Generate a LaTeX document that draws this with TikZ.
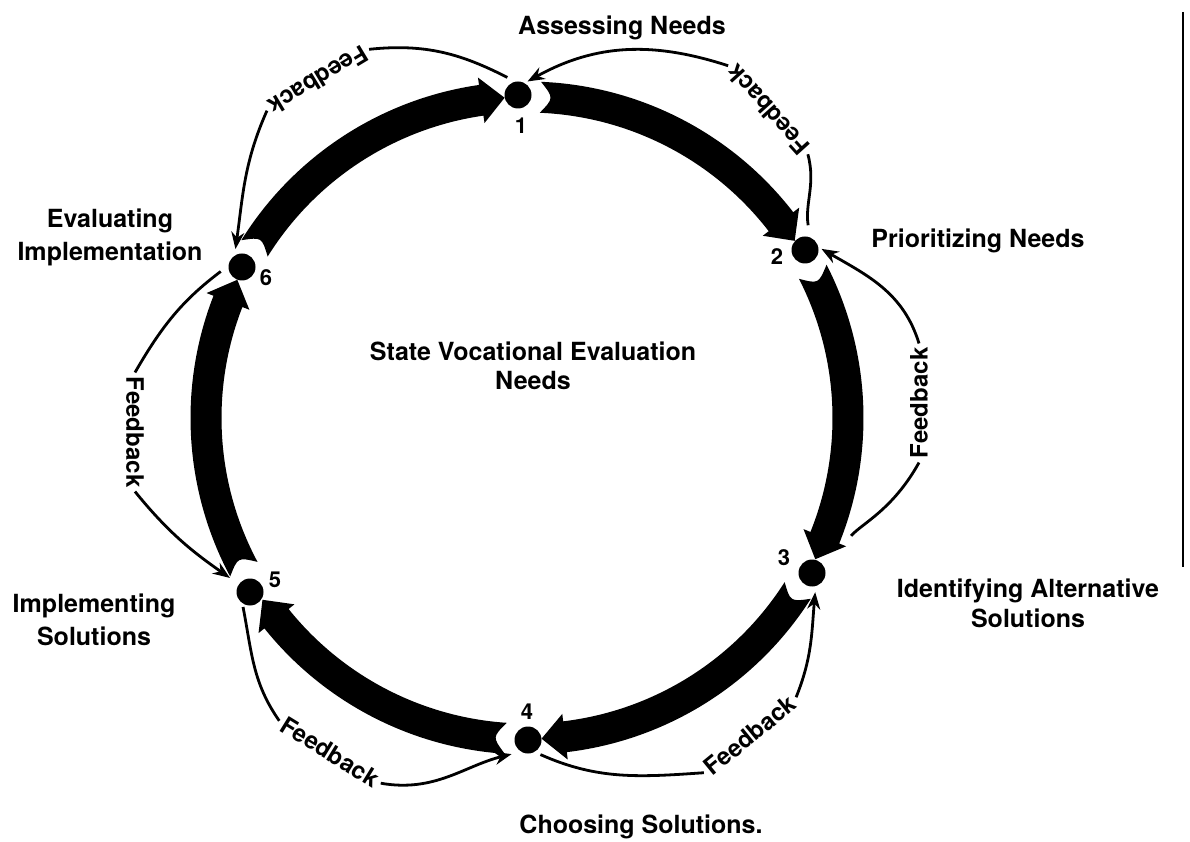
\documentclass[tikz,border=0pt]{standalone}
\usepackage{fontspec}
\setmainfont{TeX Gyre Heros}
\usetikzlibrary{arrows.meta}

% thick ring arrow from angle #1 to angle #2 (clockwise), concave tail, pointed head
\newcommand\ringarrow[2]{%
  \fill[band] ({#1-4}:336.5) arc[start angle={#1-4}, end angle={#2+6.6}, radius=336.5]
    -- ({#2+6.6}:344) -- ({#2+2.4}:321) -- ({#2+6.6}:298) -- ({#2+6.6}:305.5)
    arc[start angle={#2+6.6}, end angle={#1-4}, radius=305.5]
    .. controls ({#1-6.4}:321) .. ({#1-4}:336.5) -- cycle;}

\begin{document}
\begin{tikzpicture}[x=1pt,y=1pt,
  dot/.style={circle, fill=black, inner sep=0pt, minimum size=27pt, outer sep=3pt},
  stage/.style={font=\bfseries\fontsize{25}{#1}\selectfont, align=center, inner sep=0pt},
  stage/.default=30,
  num/.style={font=\bfseries\fontsize{22}{26}\selectfont, inner sep=0pt},
  fblabel/.style={font=\bfseries\fontsize{24}{28}\selectfont, inner sep=4pt},
  fbline/.style={line width=2.8pt},
  fbarrow/.style={fbline, -{Stealth[length=17pt, width=13pt]}},
  band/.style={fill=black}
]
\fill[white] (0,0) rectangle (1190,841);
\useasboundingbox (0,0) rectangle (1190,841);

% the cycle of six stages
\begin{scope}[shift={(527,423)}]
  \ringarrow{91.6}{31.1}
  \ringarrow{31.1}{-28.5}
  \ringarrow{-28.5}{-89.8}
  \ringarrow{-89.8}{-147.9}
  \ringarrow{-147.9}{-207.9}
  \ringarrow{-207.9}{-268.4}
\end{scope}

\node[dot] (n1) at (518,746) {};
\node[dot] (n2) at (805,591) {};
\node[dot] (n3) at (812,268) {};
\node[dot] (n4) at (528,101) {};
\node[dot] (n5) at (250,249) {};
\node[dot] (n6) at (242,574) {};

\node[num] (k1) at (521,715) {1};
\node[num] (k2) at (777,584) {2};
\node[num] (k3) at (784,283) {3};
\node[num] (k4) at (527,129) {4};
\node[num] (k5) at (275,261) {5};
\node[num] (k6) at (266,563) {6};

% stage names
\node[stage, anchor=base] (s1) at (622,806) {Assessing Needs};
\node[stage, anchor=base] (s2) at (978,593) {Prioritizing Needs};
\node[stage] (s3) at (1028,238) {Identifying Alternative\\Solutions};
\node[stage, anchor=base] (s4) at (641,8) {Choosing Solutions.};
\node[stage=33] (s5) at (94,221) {Implementing\\Solutions};
\node[stage=33] (s6) at (110,604) {Evaluating\\Implementation};
\node[stage=29] (ctr) at (533,475) {State Vocational Evaluation\\Needs};

% feedback loops, running against the cycle
\node[fblabel, rotate=132] (fb21) at (768,731) {Feedback};
\draw[fbline, shorten <=9pt] (n2.74) to[out=99, in=285] (fb21.west);
\draw[fbarrow] (fb21.east) to[out=162, in=29] (n1.55);

\node[fblabel, rotate=211] (fb16) at (318,761) {Feedback};
\draw[fbline, shorten <=5pt] (n1.112) to[out=153, in=6] (fb16.west);
\draw[fbarrow, shorten >=3pt] (fb16.east) to[out=246, in=82] (n6.115);

\node[fblabel, rotate=-90] (fb65) at (135,409) {Feedback};
\draw[fbline, shorten <=6pt] (n6.183) to[out=217, in=60] (fb65.west);
\draw[fbarrow, shorten >=8pt] (fb65.east) to[out=309, in=145] (n5.145);

\node[fblabel, rotate=-31.6] (fb54) at (330,89) {Feedback};
\draw[fbline] (n5.245) to[out=281, in=125] (fb54.west);
\draw[fbarrow, shorten >=6pt] (fb54.east) to[out=350, in=194] (n4.230);

\node[fblabel, rotate=39.3] (fb43) at (750,106) {Feedback};
\draw[fbline, shorten <=3pt] (n4.306) to[out=336, in=184] (fb43.west);
\draw[fbarrow, shorten >=3pt] (fb43.east) to[out=68, in=265] (n3.282);

\node[fblabel, rotate=90] (fb32) at (919,438) {Feedback};
\draw[fbline, shorten <=38pt] (n3.31) to[out=49, in=241] (fb32.west);
\draw[fbarrow] (fb32.east) to[out=107, in=330] (n2.4);

% page edge
\draw[line width=1.5pt] (1183,829) -- (1183,274);
\end{tikzpicture}
\end{document}
